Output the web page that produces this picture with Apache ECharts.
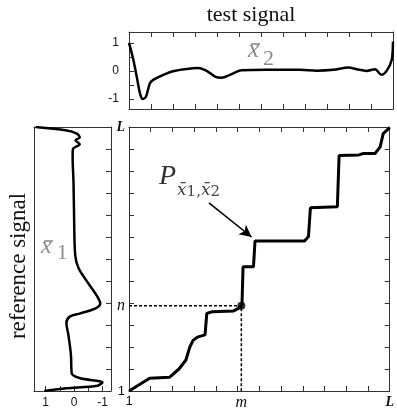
<!DOCTYPE html>
<html><head><meta charset="utf-8">
<script src="https://cdn.jsdelivr.net/npm/echarts@6/dist/echarts.min.js"></script>
<style>html,body{margin:0;padding:0;background:#fff}#c{width:397px;height:414px}</style>
</head><body><div id="c"></div><script>
// warping path (index of test signal, index of reference signal), in units of tick steps (0 = "1", 12 = "L")
const pathX = [0, 0.95, 1.86, 2.3, 2.62, 2.8, 2.95, 3.15, 3.5, 3.58, 3.83, 4.82, 5.12, 5.2, 5.25, 5.73, 5.8, 8.08, 8.26, 8.35, 9.59, 9.67, 10.58, 10.8, 11.33, 11.56, 11.7, 12];
const pathY = [0, 0.58, 0.62, 1.0, 1.41, 2.0, 2.3, 2.45, 2.55, 3.53, 3.6, 3.64, 3.8, 3.92, 5.65, 5.65, 6.82, 6.82, 7.02, 8.33, 8.38, 10.7, 10.73, 10.8, 10.8, 11.1, 11.7, 11.97];
// test signal x2
const testIdx = [0, 0.2, 0.35, 0.5, 0.62, 0.77, 0.95, 1.1, 1.56, 2.0, 2.62, 3.15, 3.53, 3.91, 4.21, 4.59, 5.12, 6.26, 7.77, 8.53, 9.29, 9.97, 10.35, 10.8, 11.18, 11.48, 11.71, 11.94, 12];
const testVal = [1.0, 0.39, -0.2, -0.8, -1.0, -0.92, -0.44, -0.32, -0.14, -0.01, 0.07, 0.1, 0, -0.2, -0.24, -0.14, 0.02, 0.04, 0.04, 0.01, 0.04, 0.12, 0.06, 0, 0.06, -0.14, 0, 0.39, 1.05];
// reference signal x1
const refIdx = [12, 11.85, 11.7, 11.52, 11.4, 11.22, 11.0, 10.6, 9.5, 8, 6.18, 5.58, 4.97, 4.29, 3.98, 3.76, 3.53, 3.38, 3.08, 2.55, 1.64, 0.8, 0.58, 0.39, 0.24, 0.12, 0];
const refVal = [1.35, 0.3, -0.1, -0.2, -0.05, -0.2, 0.04, 0.05, 0.02, 0, -0.04, -0.16, -0.46, -0.82, -0.92, -0.76, -0.22, 0.15, 0.27, 0.2, 0.11, 0.08, -0.22, -1.0, -0.82, 0.27, 1.05];
// marked point (m, n)
const mVal = 5.17, nVal = 3.88;
const arrowFrom = [3.68, 8.55], arrowTo = [5.64, 7.0];
// ticks / labels
const idxTicks = [1,2,3,4,5,6,7,8,9,10,11];
const sigTicks = [-1, -0.5, 0, 0.5, 1];
const sigLabels = [-1, 0, 1];
const mainXLabels = [0, mVal, 12];
const mainYLabels = [0, nVal, 12];

const chart = echarts.init(document.getElementById('c'));
const LC = '#333';
function labelStyle(labels, formatter, margin) {
  return {show: labels.length > 0, customValues: labels, formatter: formatter, margin: margin,
    fontFamily: 'Liberation Sans', fontSize: 12, color: '#111',
    rich: {
      s: {fontFamily: 'Liberation Sans', fontSize: 13, color: '#111'},
      it: {fontFamily: 'Liberation Serif', fontStyle: 'italic', fontSize: 16, color: '#111'},
      L: {fontFamily: 'Liberation Serif', fontStyle: 'italic', fontWeight: 'bold', fontSize: 14, color: '#111'}
    }};
}
function axis(gridIndex, position, min, max, ticks, labels, formatter, margin, extra) {
  return Object.assign({
    type: 'value', gridIndex, position, min, max,
    splitLine: {show: false},
    axisLine: {show: true, onZero: false, lineStyle: {color: LC, width: 1}},
    axisTick: {show: ticks.length > 0, inside: true, length: 5, customValues: ticks, lineStyle: {color: LC}},
    axisLabel: labelStyle(labels, formatter, margin)
  }, extra || {});
}
const near = (a, b) => Math.abs(a - b) < 1e-6;
const fmtX = v => near(v, 0) ? '{s|1}' : near(v, 12) ? '{L|L}' : '{it|m}';
const fmtY = v => near(v, 0) ? '{s|1}' : near(v, 12) ? '{L|L}' : '{it|n}';
const fmtS = v => String(v);

const zip = (a, b) => a.map((v, i) => [v, b[i]]);
const GRAY = '#8a8a8a';

chart.setOption({
  animation: false,
  grid: [
    {left: 129, top: 127, width: 264, height: 264},
    {left: 129, top: 32, width: 264, height: 77},
    {left: 34, top: 127, width: 77, height: 264}
  ],
  xAxis: [
    axis(0, 'bottom', 0, 12, idxTicks, mainXLabels, fmtX, 4),
    axis(0, 'top', 0, 12, idxTicks, [], null, 4),
    axis(1, 'bottom', 0, 12, idxTicks, [], null, 4),
    axis(1, 'top', 0, 12, idxTicks, [], null, 4),
    axis(2, 'bottom', -1.3, 1.41, sigTicks, sigLabels, fmtS, 6, {inverse: true}),
    axis(2, 'top', -1.3, 1.41, [], [], null, 4, {inverse: true})
  ],
  yAxis: [
    axis(0, 'left', 0, 12, idxTicks, mainYLabels, fmtY, 4),
    axis(0, 'right', 0, 12, idxTicks, [], null, 4),
    axis(1, 'left', -1.36, 1.39, sigTicks, sigLabels, fmtS, 10),
    axis(1, 'right', -1.36, 1.39, [], [], null, 4),
    axis(2, 'left', 0, 12, [], [], null, 4),
    axis(2, 'right', 0, 12, idxTicks, [], null, 4)
  ],
  series: [
    {type: 'line', xAxisIndex: 0, yAxisIndex: 0, data: [[0, nVal], [mVal, nVal], [mVal, 0]],
      symbol: 'none', lineStyle: {color: '#000', width: 1.5, type: [3, 2]}, z: 2,
      markLine: {silent: true, symbol: ['none', 'arrow'], symbolSize: [9, 12], label: {show: false},
        lineStyle: {color: '#000', width: 1.6, type: 'solid'},
        data: [[{coord: arrowFrom}, {coord: arrowTo}]]}},
    {type: 'line', xAxisIndex: 0, yAxisIndex: 0, data: zip(pathX, pathY), symbol: 'none',
      lineStyle: {color: '#000', width: 3}, z: 3},
    {type: 'scatter', xAxisIndex: 0, yAxisIndex: 0, data: [[mVal, nVal]], symbolSize: 8,
      itemStyle: {color: '#000'}, z: 4},
    {type: 'line', xAxisIndex: 2, yAxisIndex: 2, data: zip(testIdx, testVal), symbol: 'none', smooth: 0.3,
      lineStyle: {color: '#000', width: 2.5}},
    {type: 'line', xAxisIndex: 4, yAxisIndex: 4, data: zip(refVal, refIdx), symbol: 'none', smooth: 0.3,
      lineStyle: {color: '#000', width: 2.5}}
  ],
  graphic: [
    {type: 'text', x: 251, y: 15, style: {text: 'test signal', font: '22px "Liberation Serif"', fill: '#111', align: 'center', verticalAlign: 'middle'}},
    {type: 'text', x: 19, y: 266, rotation: Math.PI / 2, style: {text: 'reference signal', font: '23px "Liberation Serif"', fill: '#111', align: 'center', verticalAlign: 'middle'}},
    // x-bar 2
    {type: 'text', x: 248, y: 38, style: {text: 'x', font: 'italic 25px "Liberation Serif"', fill: GRAY}},
    {type: 'line', shape: {x1: 251, y1: 44, x2: 260, y2: 44}, style: {stroke: GRAY, lineWidth: 1.6}},
    {type: 'text', x: 263, y: 48, style: {text: '2', font: '22px "Liberation Serif"', fill: GRAY}},
    // x-bar 1
    {type: 'text', x: 41, y: 235, style: {text: 'x', font: 'italic 24px "Liberation Serif"', fill: GRAY}},
    {type: 'line', shape: {x1: 44, y1: 241, x2: 53, y2: 241}, style: {stroke: GRAY, lineWidth: 1.6}},
    {type: 'text', x: 57, y: 243, style: {text: '1', font: '21px "Liberation Serif"', fill: GRAY}},
    // P label
    {type: 'text', x: 159, y: 163, style: {text: 'P', font: 'italic 28px "Liberation Serif"', fill: '#333'}},
    {type: 'text', x: 177, y: 181, style: {
      text: '{i|x\u0304}{n|1}{n|,}{i|x\u0304}{n|2}', fill: '#444',
      rich: {i: {font: 'italic 17px "DejaVu Serif"', fill: '#444'}, n: {font: '15px "DejaVu Serif"', fill: '#444', padding: [4, 0, 0, 0]}}}}
  ]
});
</script></body></html>
